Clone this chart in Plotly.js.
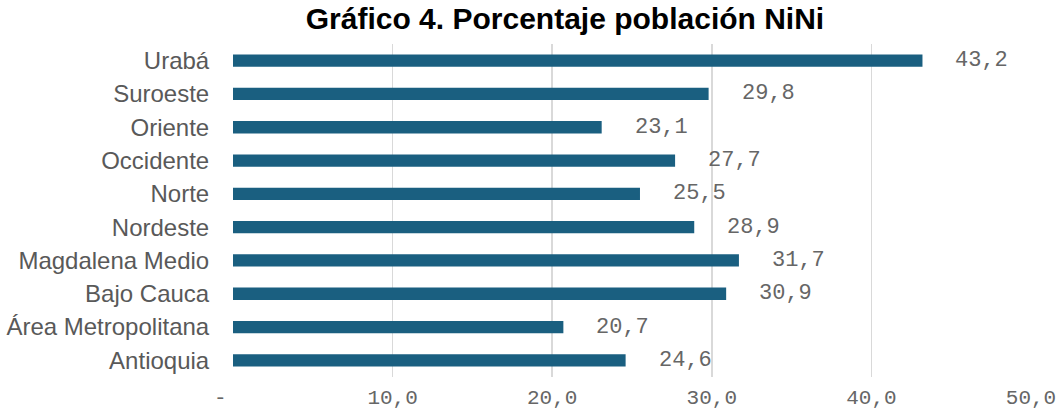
<!DOCTYPE html>
<html>
<head>
<meta charset="utf-8">
<script src="https://cdn.plot.ly/plotly-3.0.1.min.js"></script>
<style>
  body { margin: 0; background: #fff; }
  #graph { width: 1060px; height: 413px; }
</style>
</head>
<body>
<div id="graph"></div>
<script>
// Porcentaje poblacion NiNi por subregion
var regiones = ['Urabá', 'Suroeste', 'Oriente', 'Occidente', 'Norte', 'Nordeste',
                'Magdalena Medio', 'Bajo Cauca', 'Área Metropolitana', 'Antioquia'];
var porcentaje = [43.2, 29.8, 23.1, 27.7, 25.5, 28.9, 31.7, 30.9, 20.7, 24.6];
var ejeValores = [0, 10, 20, 30, 40, 50];
var ejeTextos = ['-\u00a0\u00a0', '10,0', '20,0', '30,0', '40,0', '50,0'];

function fmt(v){
  return v.toFixed(1).replace('.', ',');
}

function go(){
  var data = {
    x: porcentaje,
    y: regiones,
    type: 'bar',
    orientation: 'h',
    width: 0.37,
    marker: { color: '#1a5f80' },
    hoverinfo: 'none'
  };

  // etiquetas de datos
  var notas = [];
  for (var i = 0; i < porcentaje.length; i++) {
    notas.push({
      x: porcentaje[i], y: regiones[i],
      xref: 'x', yref: 'y',
      text: fmt(porcentaje[i]),
      showarrow: false,
      xanchor: 'left',
      xshift: 31,
      font: { family: 'Liberation Mono, Courier New, monospace', size: 22, color: '#666666' }
    });
  }

  var layout = {
    width: 1060,
    height: 413,
    margin: { l: 233, r: 29, t: 44, b: 36 },
    paper_bgcolor: '#ffffff',
    plot_bgcolor: '#ffffff',
    showlegend: false,
    title: {
      text: '<b>Gráfico 4. Porcentaje población NiNi</b>',
      font: { family: 'Liberation Sans, Arial, sans-serif', size: 30, color: '#000000' },
      x: 0.533, xref: 'container', xanchor: 'center',
      y: 0.956, yref: 'container', yanchor: 'middle'
    },
    xaxis: {
      range: [0, 50],
      tickvals: ejeValores,
      ticktext: ejeTextos,
      showgrid: true,
      gridcolor: '#d9d9d9',
      gridwidth: 1.5,
      zeroline: false,
      showline: false,
      ticks: '',
      ticklabelstandoff: 5,
      tickfont: { family: 'Liberation Mono, Courier New, monospace', size: 21, color: '#666666' },
      fixedrange: true
    },
    yaxis: {
      autorange: 'reversed',
      showgrid: false,
      zeroline: false,
      showline: false,
      ticks: 'outside',
      ticklen: 18,
      tickcolor: 'rgba(0,0,0,0)',
      tickfont: { family: 'Liberation Sans, Arial, sans-serif', size: 24, color: '#595959' },
      fixedrange: true
    },
    annotations: notas
  };

  Plotly.newPlot('graph', [data], layout, { displayModeBar: false, staticPlot: true });
}

go();
</script>
</body>
</html>
